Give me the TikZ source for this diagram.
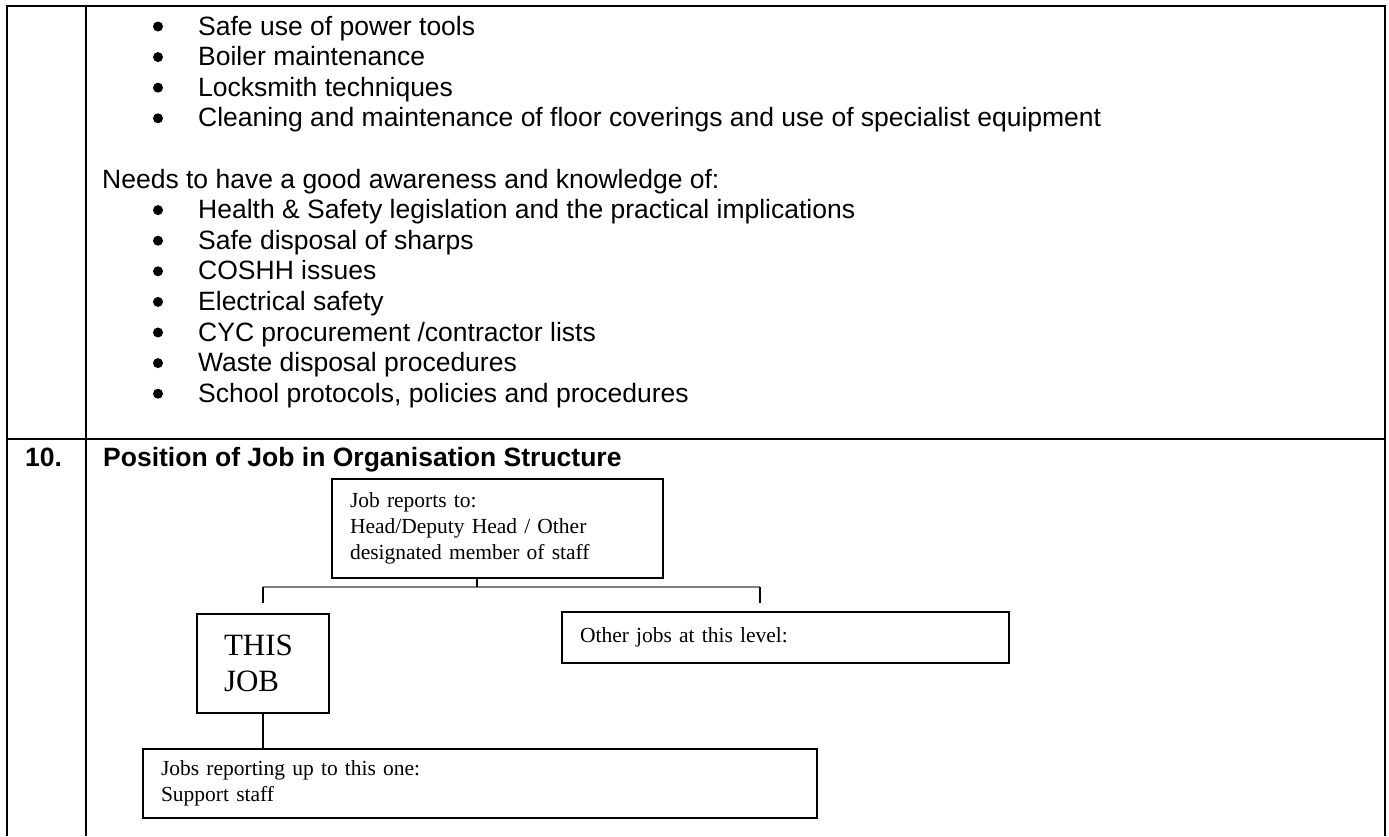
\documentclass[tikz,border=0pt]{standalone}
\usepackage{fontspec}
\setmainfont{Liberation Sans}
\newfontfamily\boxfont{Liberation Serif}
\usetikzlibrary{positioning}

\begin{document}
\begin{tikzpicture}[x=1pt, y=-1pt]
	\tikzset{rule/.style={line width=2.5pt},
		item/.style={anchor=base west, inner sep=0pt, font=\fontsize{26.5}{30.6}\selectfont},
		head/.style={item, font=\bfseries\fontsize{26.5}{30.6}\selectfont},
		box/.style={draw, line width=2pt, anchor=north west, inner xsep=18pt, align=left, font=\boxfont\fontsize{21.5}{26}\selectfont},
		link/.style={line width=2.5pt},
		bar/.style={line width=2.5pt, draw=gray}}

	\useasboundingbox (0,0) rectangle (1389,836);

	% table
	\draw[rule] (7,836) -- (7,6) -- (1385,6) -- (1385,836);
	\draw[rule] (86,6) -- (86,836);
	\draw[rule] (7,439) -- (1385,439);

	% section 9 (end)
	\foreach \txt [count=\i] in {Safe use of power tools, Boiler maintenance, Locksmith techniques,
		Cleaning and maintenance of floor coverings and use of specialist equipment} {
		\node[item] (skill\i) at (198, 4.4+30.6*\i) {\txt};
		\fill (158, -4.1+30.6*\i) circle (5);
	}
	\node[item] (needs) at (102, 188) {Needs to have a good awareness and knowledge of:};
	\foreach \txt [count=\i from 7] in {Health \& Safety legislation and the practical implications,
		Safe disposal of sharps, COSHH issues, Electrical safety, CYC procurement /contractor lists,
		Waste disposal procedures, {School protocols, policies and procedures}} {
		\node[item] (aware\i) at (198, 4.4+30.6*\i) {\txt};
		\fill (158, -4.1+30.6*\i) circle (5);
	}

	% section 10
	\node[head] (num) at (25,466) {10.};
	\node[head] (title) at (103,466) {Position of Job in Organisation Structure};

	\node[box, text width=295pt, minimum height=99pt] (boss) at (331,478)
		{Job reports to:\\Head/Deputy Head / Other\\designated member of staff};
	\node[box, inner xsep=27pt, text width=78pt, minimum height=99pt,
		font=\boxfont\fontsize{31}{36}\selectfont] (thisjob) at (196,613) {THIS\\JOB};
	\node[box, text width=411pt, minimum height=51pt] (others) at (561,611) {Other jobs at this level:};
	\node[box, text width=638pt, minimum height=69pt] (reports) at (142,748)
		{Jobs reporting up to this one:\\Support staff};

	\coordinate (hub) at (477,587);
	\coordinate (leftdrop) at (263,587);
	\coordinate (rightdrop) at (760,587);
	\coordinate (lefttick) at (263,603);
	\coordinate (righttick) at (760,603);

	\draw[bar] (leftdrop) -- (rightdrop);
	\draw[link] (hub |- boss.south) -- (hub);
	\draw[link] (leftdrop) -- (lefttick);
	\draw[link] (rightdrop) -- (righttick);
	\draw[link] (thisjob.south) -- (thisjob.south |- reports.north);
\end{tikzpicture}
\end{document}
